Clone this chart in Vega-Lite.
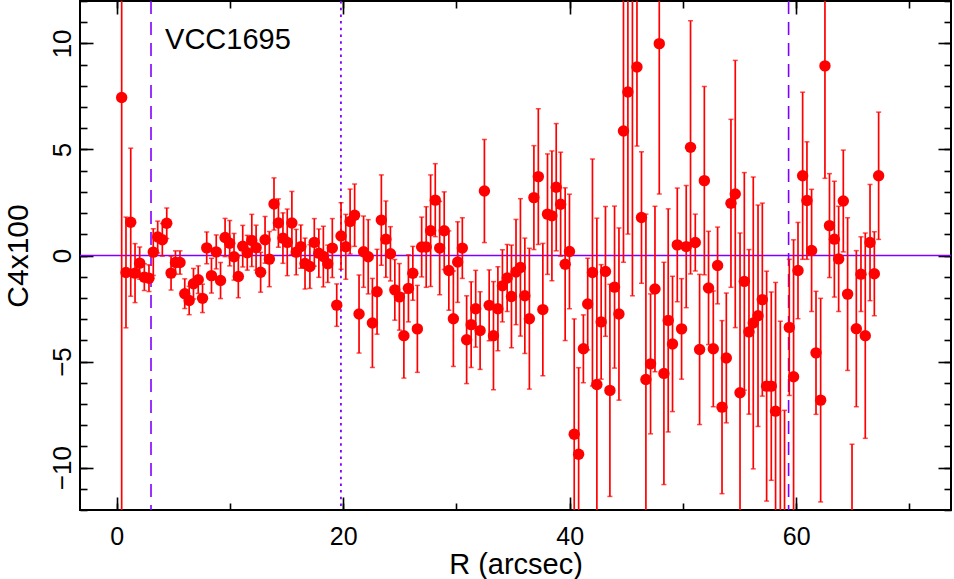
{
  "$schema": "https://vega.github.io/schema/vega-lite/v6.json",
  "width": 871,
  "height": 509,
  "autosize": "none",
  "padding": {"left": 80, "top": 1, "right": 3, "bottom": 69},
  "background": "white",
  "config": {
    "view": {"stroke": "black", "strokeWidth": 2},
    "axis": {"grid": false, "domain": false, "tickColor": "black", "tickWidth": 1.6,
      "labelFont": "Liberation Sans", "labelFontSize": 26, "labelColor": "black",
      "titleFont": "Liberation Sans", "titleFontSize": 30, "titleFontWeight": "normal", "titleColor": "black"}
  },
  "datasets": {
    "pts": [
      {"r":0.44,"c":7.45,"e":20},{"r":0.82,"c":-0.80,"e":2.61},{"r":1.24,"c":1.57,"e":3.49},{"r":1.62,"c":-0.83,"e":1.39},
      {"r":2.03,"c":-0.36,"e":0.76},{"r":2.44,"c":-1.02,"e":0.63},{"r":2.85,"c":-1.07,"e":0.63},{"r":3.23,"c":0.16,"e":1.1},
      {"r":3.62,"c":0.87,"e":0.75},{"r":4.03,"c":0.74,"e":0.77},{"r":4.42,"c":1.52,"e":0.72},{"r":4.80,"c":-0.83,"e":0.8},
      {"r":5.19,"c":-0.33,"e":0.55},{"r":5.59,"c":-0.33,"e":0.55},{"r":6.01,"c":-1.80,"e":0.7},{"r":6.40,"c":-2.12,"e":0.67},
      {"r":6.78,"c":-1.33,"e":0.72},{"r":7.20,"c":-1.14,"e":0.65},{"r":7.58,"c":-2.02,"e":0.67},{"r":7.95,"c":0.36,"e":0.75},
      {"r":8.37,"c":-0.95,"e":0.82},{"r":8.79,"c":0.17,"e":0.8},{"r":9.17,"c":-1.18,"e":0.85},{"r":9.57,"c":0.85,"e":0.9},
      {"r":9.98,"c":0.58,"e":1.07},{"r":10.36,"c":-0.06,"e":1.1},{"r":10.74,"c":-0.99,"e":1.0},{"r":11.13,"c":0.44,"e":0.98},
      {"r":11.53,"c":0.13,"e":0.82},{"r":11.93,"c":0.71,"e":1.23},{"r":12.31,"c":0.37,"e":1.06},{"r":12.71,"c":-0.79,"e":0.94},
      {"r":13.10,"c":0.74,"e":1.1},{"r":13.48,"c":-0.17,"e":1.3},{"r":13.89,"c":2.43,"e":1.23},{"r":14.28,"c":1.53,"e":1.14},
      {"r":14.68,"c":0.82,"e":1.19},{"r":15.06,"c":0.62,"e":1.57},{"r":15.47,"c":1.53,"e":1.49},{"r":15.85,"c":0.16,"e":1.07},
      {"r":16.26,"c":0.42,"e":1.02},{"r":16.63,"c":-0.38,"e":1.2},{"r":17.06,"c":-0.52,"e":1.03},{"r":17.45,"c":0.62,"e":1.12},
      {"r":17.85,"c":0.11,"e":1.14},{"r":18.25,"c":-0.05,"e":1.43},{"r":18.64,"c":-0.39,"e":0.88},{"r":19.04,"c":0.35,"e":1.39},
      {"r":19.43,"c":-2.34,"e":1.0},{"r":19.81,"c":0.92,"e":1.57},{"r":20.23,"c":0.41,"e":1.53},{"r":20.61,"c":1.6,"e":1.53},
      {"r":21.01,"c":1.9,"e":1.47},{"r":21.40,"c":-2.76,"e":1.84},{"r":21.80,"c":0.18,"e":1.68},{"r":22.21,"c":-0.06,"e":1.75},
      {"r":22.58,"c":-3.18,"e":2.1},{"r":22.99,"c":-1.71,"e":2.0},{"r":23.37,"c":1.67,"e":2.13},{"r":23.77,"c":0.77,"e":1.8},
      {"r":24.17,"c":0.08,"e":1.28},{"r":24.56,"c":-1.62,"e":1.43},{"r":24.96,"c":-1.95,"e":1.57},{"r":25.36,"c":-3.78,"e":2.0},
      {"r":25.76,"c":-1.55,"e":1.58},{"r":26.15,"c":-0.84,"e":1.27},{"r":26.55,"c":-3.46,"e":2.05},{"r":26.93,"c":0.40,"e":1.41},
      {"r":27.33,"c":0.40,"e":1.9},{"r":27.72,"c":1.17,"e":2.63},{"r":28.13,"c":2.61,"e":1.72},{"r":28.52,"c":0.35,"e":2.2},
      {"r":28.92,"c":1.17,"e":1.83},{"r":29.33,"c":-0.71,"e":1.87},{"r":29.73,"c":-2.98,"e":2.25},{"r":30.11,"c":-0.31,"e":1.9},
      {"r":30.52,"c":0.35,"e":1.43},{"r":30.90,"c":-3.97,"e":2.07},{"r":31.30,"c":-3.26,"e":2.02},{"r":31.70,"c":-2.51,"e":1.81},
      {"r":32.09,"c":-3.54,"e":1.83},{"r":32.47,"c":3.04,"e":2.43},{"r":32.89,"c":-2.35,"e":1.67},{"r":33.27,"c":-3.78,"e":2.55},
      {"r":33.66,"c":-2.51,"e":1.98},{"r":34.06,"c":-1.43,"e":1.7},{"r":34.48,"c":-1.06,"e":1.58},{"r":34.86,"c":-1.93,"e":2.42},
      {"r":35.26,"c":-0.78,"e":2.48},{"r":35.65,"c":-0.56,"e":3.24},{"r":36.04,"c":-1.9,"e":2.72},{"r":36.44,"c":-2.98,"e":3.32},
      {"r":36.84,"c":2.73,"e":2.45},{"r":37.23,"c":3.72,"e":3.2},{"r":37.63,"c":-2.55,"e":3.12},{"r":38.04,"c":1.95,"e":2.84},
      {"r":38.43,"c":1.87,"e":3.06},{"r":38.81,"c":3.22,"e":3.0},{"r":39.20,"c":2.42,"e":2.45},{"r":39.60,"c":-0.41,"e":3.6},
      {"r":39.98,"c":0.19,"e":2.7},{"r":40.40,"c":-8.43,"e":5.44},{"r":40.79,"c":-9.37,"e":4.08},{"r":41.21,"c":-4.4,"e":1.6},
      {"r":41.59,"c":-2.29,"e":2.16},{"r":42.01,"c":-0.80,"e":5.35},{"r":42.40,"c":-6.08,"e":7.84},{"r":42.78,"c":-3.13,"e":2.7},
      {"r":43.16,"c":-0.75,"e":3.06},{"r":43.55,"c":-6.36,"e":5.0},{"r":43.96,"c":-1.49,"e":3.82},{"r":44.35,"c":-2.76,"e":4.06},
      {"r":44.75,"c":5.87,"e":6.19},{"r":45.14,"c":7.71,"e":6.7},{"r":45.54,"c":12.8,"e":14.7},{"r":45.94,"c":8.89,"e":3.73},
      {"r":46.34,"c":1.79,"e":3.1},{"r":46.73,"c":-5.85,"e":7.8},{"r":47.14,"c":-5.11,"e":3.3},{"r":47.53,"c":-1.58,"e":3.9},
      {"r":47.91,"c":9.99,"e":7.09},{"r":48.32,"c":-5.56,"e":5.24},{"r":48.70,"c":-3.06,"e":5.26},{"r":49.08,"c":-4.17,"e":3.19},
      {"r":49.50,"c":0.50,"e":2.68},{"r":49.88,"c":-3.46,"e":2.37},{"r":50.29,"c":0.42,"e":2.88},{"r":50.67,"c":5.10,"e":5.97},
      {"r":51.09,"c":0.61,"e":1.34},{"r":51.47,"c":-4.43,"e":3.54},{"r":51.89,"c":3.53,"e":4.44},{"r":52.26,"c":-1.53,"e":2.67},
      {"r":52.68,"c":-4.40,"e":2.73},{"r":53.06,"c":-0.47,"e":1.81},{"r":53.45,"c":-7.15,"e":4.08},{"r":53.83,"c":-4.83,"e":3.06},
      {"r":54.24,"c":2.46,"e":3.96},{"r":54.62,"c":2.90,"e":6.3},{"r":55.04,"c":-6.47,"e":7.53},{"r":55.42,"c":-1.22,"e":5.13},
      {"r":55.83,"c":-3.60,"e":3.88},{"r":56.21,"c":-3.18,"e":6.88},{"r":56.63,"c":-2.84,"e":5.22},{"r":57.01,"c":-2.08,"e":4.55},
      {"r":57.39,"c":-6.16,"e":5.42},{"r":57.80,"c":-6.16,"e":4.44},{"r":58.18,"c":-7.34,"e":6.07},{"r":58.60,"c":-12.6,"e":9.5},
      {"r":58.97,"c":-13.2,"e":5.9},{"r":59.39,"c":-3.39,"e":3.21},{"r":59.77,"c":-5.72,"e":6.46},{"r":60.16,"c":-0.71,"e":2.27},
      {"r":60.57,"c":3.76,"e":3.94},{"r":60.95,"c":2.59,"e":2.77},{"r":61.36,"c":0.24,"e":2.88},{"r":61.75,"c":-4.59,"e":2.9},
      {"r":62.16,"c":-6.82,"e":4.8},{"r":62.54,"c":8.94,"e":5.3},{"r":62.94,"c":1.41,"e":2.45},{"r":63.37,"c":0.77,"e":2.73},
      {"r":63.75,"c":-0.16,"e":2.48},{"r":64.16,"c":2.57,"e":2.4},{"r":64.54,"c":-1.82,"e":3.6},{"r":64.93,"c":-13.5,"e":4.6},
      {"r":65.31,"c":-3.45,"e":3.68},{"r":65.72,"c":-0.88,"e":1.76},{"r":66.10,"c":-3.78,"e":4.84},{"r":66.52,"c":0.61,"e":2.74},
      {"r":66.90,"c":-0.86,"e":1.98},{"r":67.28,"c":3.76,"e":3.0}
    ]
  },
  "resolve": {"axis": {"x": "independent", "y": "independent"}},
  "layer": [
    {
      "data": {"values": [{"xv": 3.03}, {"xv": 59.33}]},
      "mark": {"type": "rule", "color": "#8000ff", "strokeWidth": 1.6, "strokeDash": [13, 8], "clip": true},
      "encoding": {
        "x": {"field": "xv", "type": "quantitative", "scale": {"domain": [-3.24, 73.67], "nice": false, "zero": false},
          "axis": {"orient": "top", "values": [0,10,20,30,40,50,60,70], "tickSize": -7, "labels": false, "title": null}}
      }
    },
    {
      "data": {"values": [{"xv": 19.8}]},
      "mark": {"type": "rule", "color": "#8000ff", "strokeWidth": 1.8, "strokeDash": [2.5, 4.2], "clip": true},
      "encoding": {
        "x": {"field": "xv", "type": "quantitative", "axis": null}
      }
    },
    {
      "data": {"values": [{"h": 0}]},
      "mark": {"type": "rule", "color": "#8000ff", "strokeWidth": 1.6},
      "encoding": {
        "y": {"field": "h", "type": "quantitative", "scale": {"domain": [-12, 12], "nice": false, "zero": false},
          "axis": {"orient": "right", "values": [-12,-11,-10,-9,-8,-7,-6,-5,-4,-3,-2,-1,0,1,2,3,4,5,6,7,8,9,10,11,12], "tickSize": -7, "labels": false, "title": null}}
      }
    },
    {
      "data": {"name": "pts"},
      "mark": {"type": "errorbar", "color": "#ff0000", "thickness": 1.7, "ticks": {"size": 5, "thickness": 1.5}, "clip": true},
      "encoding": {
        "x": {"field": "r", "type": "quantitative",
          "axis": {"orient": "bottom", "values": [0, 20, 40, 60], "tickSize": -13, "labelFontSize": 25, "labelPadding": 39, "labelBaseline": "middle", "title": "R (arcsec)", "titleFontSize": 29, "titleY": 69, "titleBaseline": "bottom"}},
        "y": {"field": "c", "type": "quantitative",
          "axis": {"orient": "left", "values": [-10, -5, 0, 5, 10], "tickSize": -13, "labelAngle": -90, "labelAlign": "center", "labelBaseline": "middle", "labelPadding": 31, "title": "C4x100", "titleX": -62, "titleBaseline": "middle"}},
        "yError": {"field": "e"}
      }
    },
    {
      "data": {"name": "pts"},
      "mark": {"type": "point", "filled": true, "color": "#ff0000", "opacity": 1, "size": 130, "clip": true},
      "encoding": {
        "x": {"field": "r", "type": "quantitative",
          "axis": {"orient": "bottom", "values": [0,10,20,30,40,50,60,70], "tickSize": -7, "labels": false, "title": null}},
        "y": {"field": "c", "type": "quantitative",
          "axis": {"orient": "left", "values": [-12,-11,-10,-9,-8,-7,-6,-5,-4,-3,-2,-1,0,1,2,3,4,5,6,7,8,9,10,11,12], "tickSize": -7, "labels": false, "title": null}}
      }
    },
    {
      "data": {"values": [{"tx": 4.27, "ty": 9.76, "label": "VCC1695"}]},
      "mark": {"type": "text", "font": "Liberation Sans", "fontSize": 29, "align": "left", "baseline": "alphabetic", "color": "black"},
      "encoding": {
        "x": {"field": "tx", "type": "quantitative",
          "axis": {"orient": "top", "values": [0, 20, 40, 60], "tickSize": -13, "labels": false, "title": null}},
        "y": {"field": "ty", "type": "quantitative",
          "axis": {"orient": "right", "values": [-10, -5, 0, 5, 10], "tickSize": -13, "labels": false, "title": null}},
        "text": {"field": "label"}
      }
    }
  ]
}
